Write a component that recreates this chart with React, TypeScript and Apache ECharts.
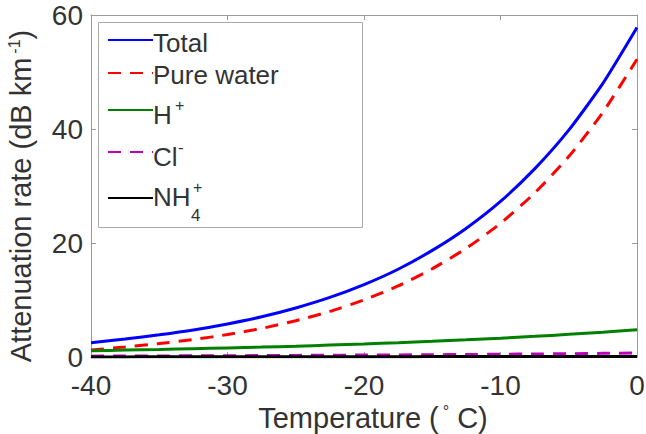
import React, { useEffect, useRef } from "react";
import * as echarts from "echarts";

const temps = [-40, -37.5, -35, -32.5, -30, -27.5, -25, -22.5, -20, -17.5, -15, -12.5, -10, -7.5, -5, -2.5, 0];
const totalVals = [2.5, 3.15, 3.9, 4.75, 5.8, 7.05, 8.6, 10.45, 12.7, 15.4, 18.7, 22.6, 27.3, 33.0, 39.8, 48.0, 57.8];
const pureWaterVals = [1.23, 1.75, 2.36, 3.06, 3.94, 5.02, 6.37, 8.0, 10.01, 12.46, 15.48, 19.08, 23.44, 28.77, 35.16, 42.92, 52.23];
const hVals = [1.1, 1.21, 1.32, 1.45, 1.59, 1.74, 1.9, 2.09, 2.29, 2.51, 2.75, 3.01, 3.3, 3.62, 3.97, 4.35, 4.77];
const clVals = [0.15, 0.17, 0.19, 0.21, 0.23, 0.25, 0.28, 0.31, 0.34, 0.37, 0.4, 0.44, 0.48, 0.53, 0.58, 0.64, 0.7];
const nh4Vals = [0.02, 0.02, 0.03, 0.03, 0.04, 0.04, 0.05, 0.05, 0.06, 0.06, 0.07, 0.07, 0.08, 0.08, 0.09, 0.09, 0.1];

const seriesNames = ["Total", "Pure water", "H+", "Cl-", "NH4+"];
const legendMainText = ["Total", "Pure water", "H", "Cl", "NH"];
const legendLineY = [40, 73, 110, 152, 198];
const legendTextY = [43, 75, 115, 157, 197];

const FONT = "'Liberation Sans', Arial, Helvetica, sans-serif";
const TEXT = "#333";
const AXIS = "#999";

export default function App() {
  const ref = useRef<HTMLDivElement>(null);
  useEffect(() => {
    if (!ref.current) return;
    const chart = echarts.init(ref.current, undefined, { renderer: "svg" });
    const pairs = (vals: number[]) => temps.map((t, i) => [t, vals[i]]);
    const seriesDefs = [
      { name: "Total", vals: totalVals, color: "#0000ff", type: "solid" as any },
      { name: "Pure water", vals: pureWaterVals, color: "#ff0000", type: [13, 9] as any },
      { name: "H+", vals: hVals, color: "#008000", type: "solid" as any },
      { name: "Cl-", vals: clVals, color: "#bf00bf", type: [13, 9] as any },
      { name: "NH4+", vals: nh4Vals, color: "#000000", type: "solid" as any },
    ];
    const base = { fontFamily: FONT, color: TEXT };
    const legends = seriesNames.map((n, i) => ({
      data: [n],
      orient: "vertical",
      left: 107,
      top: legendLineY[i] - 7,
      itemWidth: 45,
      itemHeight: 14,
      itemGap: 0,
      padding: 0,
      selectedMode: false,
      itemStyle: { opacity: 0 },
      formatter: () => "",
      textStyle: { fontSize: 1 },
    }));
    const txt = (text: string, x: number, y: number, size: number) => ({
      type: "text",
      x,
      y,
      z: 10,
      silent: true,
      style: { text, fontSize: size, fontFamily: FONT, fill: TEXT, verticalAlign: "middle", align: "left" },
    });
    const legendTexts = [
      ...legendMainText.map((t, i) => txt(t, 153, legendTextY[i], 26)),
      txt("+", 175, 105, 16),
      txt("-", 178, 147, 17),
      txt("4", 191, 215, 17),
      txt("+", 193, 187, 16),
    ];
    const titleRich = {
      m: { ...base, fontSize: 29, lineHeight: 29, verticalAlign: "bottom" },
      sup: { ...base, fontSize: 16, lineHeight: 16, verticalAlign: "top", padding: [0, 0, 18, 4] },
    };
    const axisCommon = {
      axisLine: { show: true, onZero: false, lineStyle: { color: AXIS, width: 1 } },
      axisTick: { show: true, inside: true, length: 5, lineStyle: { color: AXIS } },
      splitLine: { show: false },
    };
    chart.setOption({
      animation: false,
      backgroundColor: "#fff",
      grid: { left: 91, right: 9, top: 15, bottom: 77, containLabel: false, outerBoundsMode: "none" },
      legend: legends,
      xAxis: [
        {
          type: "value",
          min: -40,
          max: 0,
          interval: 10,
          position: "bottom",
          ...axisCommon,
          axisLabel: { color: TEXT, fontSize: 28, fontFamily: FONT, margin: 14 },
          name: "{m|Temperature (}{sup|°}{m| C)}",
          nameLocation: "middle",
          nameGap: 38,
          nameTextStyle: { fontSize: 29, fontFamily: FONT, color: TEXT, rich: titleRich, padding: [0, 0, 0, 18] },
        },
        {
          type: "value",
          min: -40,
          max: 0,
          interval: 10,
          position: "top",
          ...axisCommon,
          axisLabel: { show: false },
        },
      ],
      yAxis: [
        {
          type: "value",
          min: 0,
          max: 60,
          interval: 20,
          position: "left",
          ...axisCommon,
          axisLabel: { color: TEXT, fontSize: 28, fontFamily: FONT, margin: 8 },
          name: "{m|Attenuation rate (dB km}{sup|-1}{m|)}",
          nameLocation: "middle",
          nameRotate: 90,
          nameGap: 53,
          nameTextStyle: { fontSize: 29, fontFamily: FONT, color: TEXT, rich: titleRich, padding: [0, 20, 0, 0] },
        },
        {
          type: "value",
          min: 0,
          max: 60,
          interval: 20,
          position: "right",
          ...axisCommon,
          axisLabel: { show: false },
        },
      ],
      graphic: [
        {
          type: "rect",
          shape: { x: 98.5, y: 22.5, width: 264, height: 205 },
          style: { fill: "#fff", stroke: "#aaa", lineWidth: 1 },
          z: 1,
          silent: true,
        },
        ...legendTexts,
      ],
      series: seriesDefs.map((s) => ({
        name: s.name,
        type: "line",
        data: pairs(s.vals),
        xAxisIndex: 0,
        yAxisIndex: 0,
        symbol: "none",
        smooth: 0.2,
        color: s.color,
        lineStyle: { color: s.color, width: 3, type: s.type },
        z: 2,
      })),
    });
    return () => chart.dispose();
  }, []);
  return (
    <div
      ref={ref}
      style={{ position: "fixed", left: 0, top: 0, width: 646, height: 434, background: "#fff" }}
    />
  );
}
